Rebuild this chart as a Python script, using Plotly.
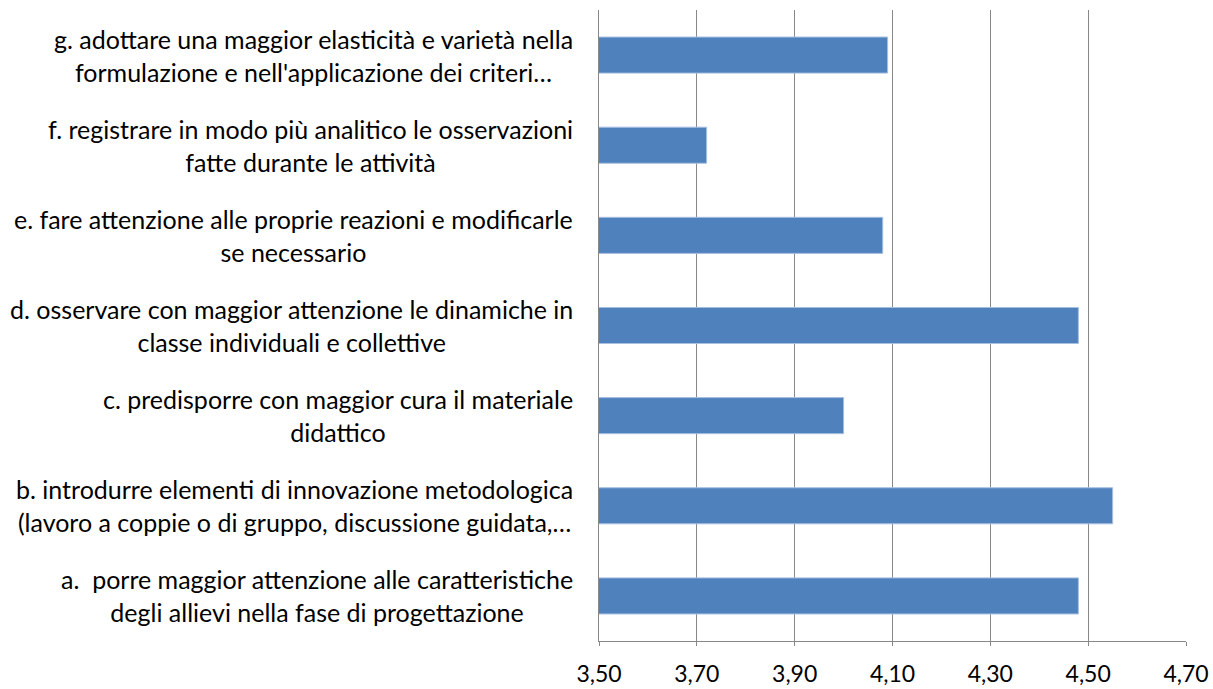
import plotly.graph_objects as go

categories = ["a", "b", "c", "d", "e", "f", "g"]
values = [4.48, 4.55, 4.00, 4.48, 4.08, 3.72, 4.09]
labels = [
    "a.\u00a0 porre maggior attenzione alle caratteristiche<br>degli allievi nella fase di progettazione",
    "b. introdurre elementi di innovazione metodologica<br>(lavoro a coppie o di gruppo, discussione guidata,…",
    "c. predisporre con maggior cura il materiale<br>didattico",
    "d. osservare con maggior attenzione le dinamiche in<br>classe individuali e collettive",
    "e. fare attenzione alle proprie reazioni e modificarle<br>se necessario",
    "f. registrare in modo più analitico le osservazioni<br>fatte durante le attività",
    "g. adottare una maggior elasticità e varietà nella<br>formulazione e nell'applicazione dei criteri…",
]
x_ticks = [3.5, 3.7, 3.9, 4.1, 4.3, 4.5, 4.7]

FONT = "Lato"
fig = go.Figure()
fig.add_trace(go.Bar(
    y=categories, x=values, base=0, orientation="h",
    marker=dict(color="#4F81BD", line=dict(color="#A7BFE0", width=1)),
    hoverinfo="x+y",
))

for cat, lab in zip(categories, labels):
    fig.add_annotation(
        x=0, xref="paper", y=cat, yref="y", text=lab,
        xanchor="right", yanchor="middle", align="center",
        xshift=-24, showarrow=False,
        font=dict(family=FONT, size=25, color="#000000"),
    )

fig.update_layout(
    width=1213, height=689,
    margin=dict(l=599, r=27, t=10, b=48, autoexpand=False),
    paper_bgcolor="white", plot_bgcolor="white",
    separators=",.",
    bargap=0.6,
    showlegend=False,
    xaxis=dict(
        range=[3.5, 4.7], tickvals=x_ticks, tickformat=".2f",
        showgrid=True, gridcolor="#888888", gridwidth=1,
        showline=True, linecolor="#888888", linewidth=1, mirror=False,
        ticks="outside", ticklen=4, tickcolor="#888888",
        tickfont=dict(family=FONT, size=23, color="#000000"),
        zeroline=False, ticklabelstandoff=8, automargin=False,
    ),
    yaxis=dict(
        categoryorder="array", categoryarray=categories,
        showticklabels=False, showgrid=False, automargin=False,
        showline=True, linecolor="#888888", linewidth=1,
        zeroline=False, ticks="",
    ),
)

fig.write_html("out.html", config={"displayModeBar": False})
with open("out.html", "r", encoding="utf-8") as f:
    html = f.read()
html = html.replace("<body>", '<body style="margin:0;padding:0;overflow:hidden">', 1)
with open("out.html", "w", encoding="utf-8") as f:
    f.write(html)
